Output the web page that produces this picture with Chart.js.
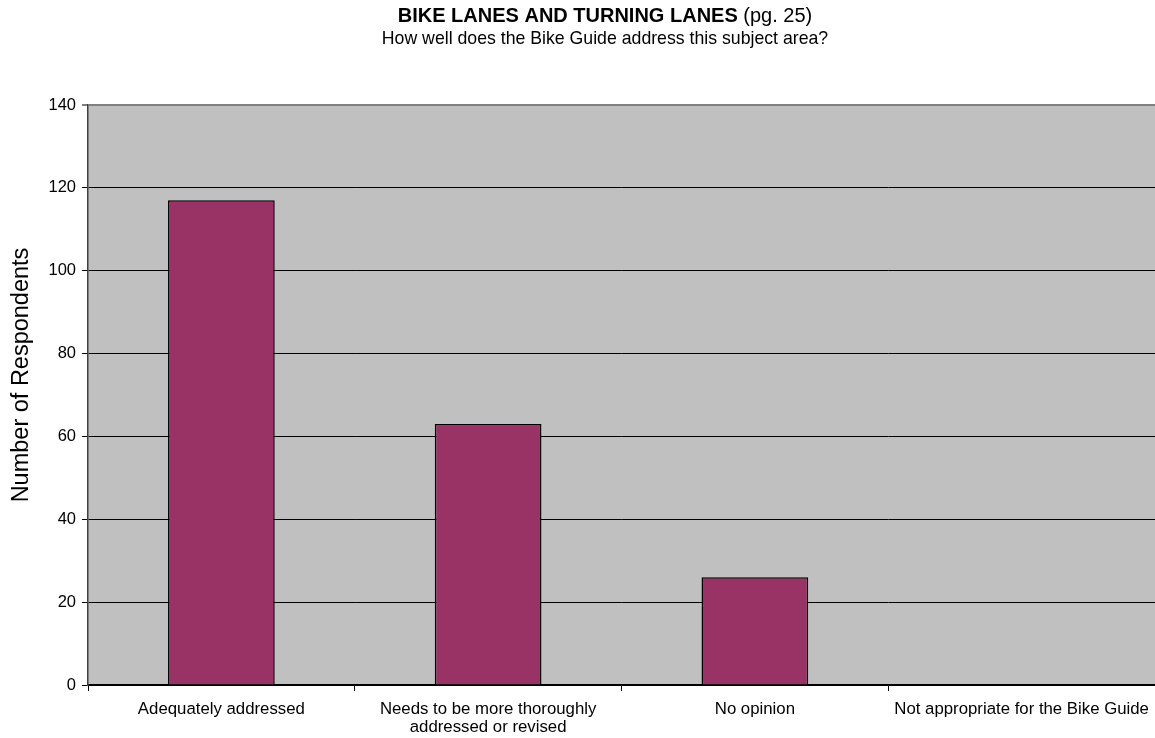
<!DOCTYPE html>
<html>
<head>
<meta charset="utf-8">
<script src="https://cdn.jsdelivr.net/npm/chart.js@4.4.1/dist/chart.umd.min.js"></script>
<style>
    html, body { margin: 0; padding: 0; background: #ffffff; }
    #chart-box { width: 1155px; height: 738px; }
</style>
</head>
<body>
<div id="chart-box"><canvas id="survey-chart"></canvas></div>
<script>
// Dữ liệu khảo sát
const categories = [
    "Adequately addressed",
    ["Needs to be more thoroughly", "addressed or revised"],
    "No opinion",
    "Not appropriate for the Bike Guide"
];
const respondents = [117, 63, 26, 0];
const yMin = 0;
const yMax = 140;
const yStep = 20;

const titleBold = "BIKE LANES AND TURNING LANES";
const titlePage = " (pg. 25)";
const subtitle = "How well does the Bike Guide address this subject area?";
const yAxisTitle = "Number of Respondents";

const FONT = "Arial, 'Liberation Sans', sans-serif";

// Nền xám cho vùng vẽ
const plotBackground = {
    id: "plotBackground",
    beforeDraw(chart) {
        const { ctx, chartArea } = chart;
        ctx.save();
        ctx.fillStyle = "#c0c0c0";
        ctx.fillRect(chartArea.left, chartArea.top, chartArea.right - chartArea.left, chartArea.bottom - chartArea.top);
        ctx.restore();
    }
};

// Tiêu đề (phần in đậm + phần thường) và nhãn trục Y
const headerText = {
    id: "headerText",
    afterDraw(chart) {
        const ctx = chart.ctx;
        const cx = 605;
        ctx.save();
        ctx.fillStyle = "#000";
        ctx.textBaseline = "middle";

        ctx.font = "bold 20px " + FONT;
        const wBold = ctx.measureText(titleBold).width;
        ctx.font = "20px " + FONT;
        const wPage = ctx.measureText(titlePage).width;
        let x = cx - (wBold + wPage) / 2;
        ctx.textAlign = "left";
        ctx.font = "bold 20px " + FONT;
        ctx.fillText(titleBold, x, 16);
        ctx.font = "20px " + FONT;
        ctx.fillText(titlePage, x + wBold, 16);

        ctx.textAlign = "center";
        ctx.font = "17.7px " + FONT;
        ctx.fillText(subtitle, cx, 39);

        ctx.translate(22, 375);
        ctx.rotate(-Math.PI / 2);
        ctx.font = "23.5px " + FONT;
        ctx.fillText(yAxisTitle, 0, 0);
        ctx.restore();
    }
};

const ctx = document.getElementById("survey-chart").getContext("2d");

new Chart(ctx, {
    type: "bar",
    data: {
        labels: categories,
        datasets: [{
            data: respondents,
            backgroundColor: "#993366",
            borderColor: "#000000",
            borderWidth: 1.5,
            barPercentage: 0.4,
            categoryPercentage: 1.0
        }]
    },
    options: {
        responsive: true,
        maintainAspectRatio: false,
        animation: false,
        layout: { padding: { top: 105, left: 0, right: 0, bottom: 0 } },
        plugins: {
            legend: { display: false },
            tooltip: { enabled: false }
        },
        scales: {
            x: {
                offset: true,
                grid: {
                    offset: true,
                    drawOnChartArea: false,
                    drawTicks: true,
                    tickLength: 6,
                    color: "#000"
                },
                border: { color: "#000", width: 1.5 },
                ticks: {
                    color: "#000",
                    padding: 9,
                    maxRotation: 0,
                    autoSkip: false,
                    font: { family: FONT, size: 16.8, lineHeight: 1.08 }
                },
                afterFit(scale) {
                    scale.height = 53;
                    // vùng vẽ kéo sát mép phải
                    scale.paddingLeft = 0;
                    scale.paddingRight = 0;
                }
            },
            y: {
                min: yMin,
                max: yMax,
                grid: {
                    color: (c) => (c.tick && c.tick.value === yMax ? "#808080" : "#000"),
                    lineWidth: (c) => (c.tick && c.tick.value === yMax ? 2 : 1),
                    tickLength: 6
                },
                border: { color: "#404040", width: 1.5 },
                ticks: {
                    stepSize: yStep,
                    color: "#000",
                    padding: 6,
                    font: { family: FONT, size: 16.5 }
                },
                afterFit(scale) { scale.width = 88; }
            }
        }
    },
    plugins: [plotBackground, headerText]
});
</script>
</body>
</html>
